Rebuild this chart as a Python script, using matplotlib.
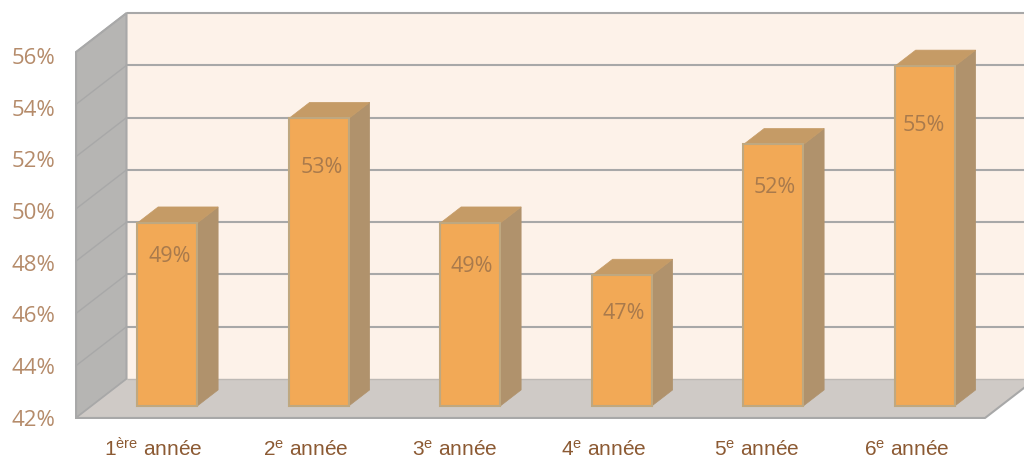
import numpy as np
import matplotlib
matplotlib.use('Agg')
import matplotlib.pyplot as plt
from matplotlib.patches import Polygon

# data
categories = ['1$^{\\mathrm{ère}}$ année', '2$^{\\mathrm{e}}$ année', '3$^{\\mathrm{e}}$ année',
              '4$^{\\mathrm{e}}$ année', '5$^{\\mathrm{e}}$ année', '6$^{\\mathrm{e}}$ année']
values = [49, 53, 49, 47, 52, 55]
y_ticks = [42, 44, 46, 48, 50, 52, 54, 56]
# where each value label sits below the top of its bar (in axis units)
label_drop = [1.3, 1.88, 1.65, 1.46, 1.65, 2.27]
label_shift = [0.012, 0.018, 0.006, 0.012, 0.006, -0.008]
# category labels are not quite centred under the bars in the original
cat_shift = [-0.09, -0.085, -0.1, -0.115, -0.105, -0.115]

plt.rcParams['mathtext.fontset'] = 'custom'
plt.rcParams['mathtext.rm'] = 'Liberation Sans'
plt.rcParams['mathtext.default'] = 'regular'

# fake 3D: d=0 is the front plane, d=1 the back wall
DX, DY = 0.333, 1.49
Y0, Y1 = 42, 56
X0, X1 = -0.5, 5.5
BAR_W = 0.198
BAR_D0, BAR_D1 = 0.31, 0.72

GRID = '#a8a8a8'
WALL = '#fdf2e9'
SIDE_WALL = '#b6b5b3'
FLOOR = '#cfcac6'
BAR_FRONT = '#f2a956'
BAR_EDGE = '#bfa880'
BAR_TOP = '#c59b66'
BAR_SIDE = '#b0926c'


def pr(x, y, d):
    return (x + d * DX, y + d * DY)


fig = plt.figure(figsize=(10.24, 4.59), dpi=100)
ax = fig.add_axes([0, 0, 1, 1])
ax.set_xlim(-1.002, 5.757)
ax.set_ylim(40.43, 57.99)
ax.axis('off')

# walls and floor
ax.add_patch(Polygon([pr(X0, Y0, 1), pr(X1, Y0, 1), pr(X1, Y1, 1), pr(X0, Y1, 1)], fc=WALL, ec='none', zorder=1))
ax.add_patch(Polygon([pr(X0, Y0, 0), pr(X0, Y0, 1), pr(X0, Y1, 1), pr(X0, Y1, 0)], fc=SIDE_WALL, ec=GRID, lw=1.5, zorder=1))
ax.add_patch(Polygon([pr(X0, Y0, 0), pr(X1, Y0, 0), pr(X1, Y0, 1), pr(X0, Y0, 1)], fc=FLOOR, ec='none', zorder=2))

# gridlines round the back and side wall
for t in y_ticks:
    a, b, c = pr(X0, t, 0), pr(X0, t, 1), pr(X1, t, 1)
    lw = 1.0 if t == Y0 else 1.5
    col = '#bdb9b5' if t == Y0 else GRID
    ax.plot([b[0], c[0]], [b[1], c[1]], color=col, lw=lw, zorder=3, solid_capstyle='butt')
    ax.plot([a[0], b[0]], [a[1], b[1]], color=GRID, lw=1.0, zorder=3)
ax.plot([X0, X1, X1 + DX], [Y0, Y0, Y0 + DY], color=GRID, lw=1.5, zorder=3)

# bars
for i, v in enumerate(values):
    l, r = i - BAR_W, i + BAR_W
    front = [pr(l, Y0, BAR_D0), pr(r, Y0, BAR_D0), pr(r, v, BAR_D0), pr(l, v, BAR_D0)]
    side = [pr(r, Y0, BAR_D0), pr(r, Y0, BAR_D1), pr(r, v, BAR_D1), pr(r, v, BAR_D0)]
    top = [pr(l, v, BAR_D0), pr(r, v, BAR_D0), pr(r, v, BAR_D1), pr(l, v, BAR_D1)]
    ax.add_patch(Polygon(side, fc=BAR_SIDE, ec=BAR_SIDE, lw=0.5, zorder=4))
    ax.add_patch(Polygon(top, fc=BAR_TOP, ec=BAR_TOP, lw=0.5, zorder=4))
    ax.add_patch(Polygon(front, fc=BAR_FRONT, ec=BAR_EDGE, lw=1.5, zorder=5))
    px, py = pr(i, v - label_drop[i], BAR_D0)
    ax.text(px + label_shift[i], py, '%d%%' % v, ha='center', va='center', fontsize=15.5,
            family='Open Sans', color='#a97a4c', zorder=6)
    ax.text(i + cat_shift[i] + 0.1, 40.8, categories[i], ha='center', va='center', fontsize=15,
            family='Liberation Sans', color='#8c5a33', zorder=6)

# y labels
for t in y_ticks:
    ax.text(X0 - 0.135, t - 0.09 - (t - Y0) * 0.0115, '%d%%' % t, ha='right', va='center', fontsize=16,
            family='Open Sans', color='#b58b6a')

fig.savefig('out.png', dpi=100)
